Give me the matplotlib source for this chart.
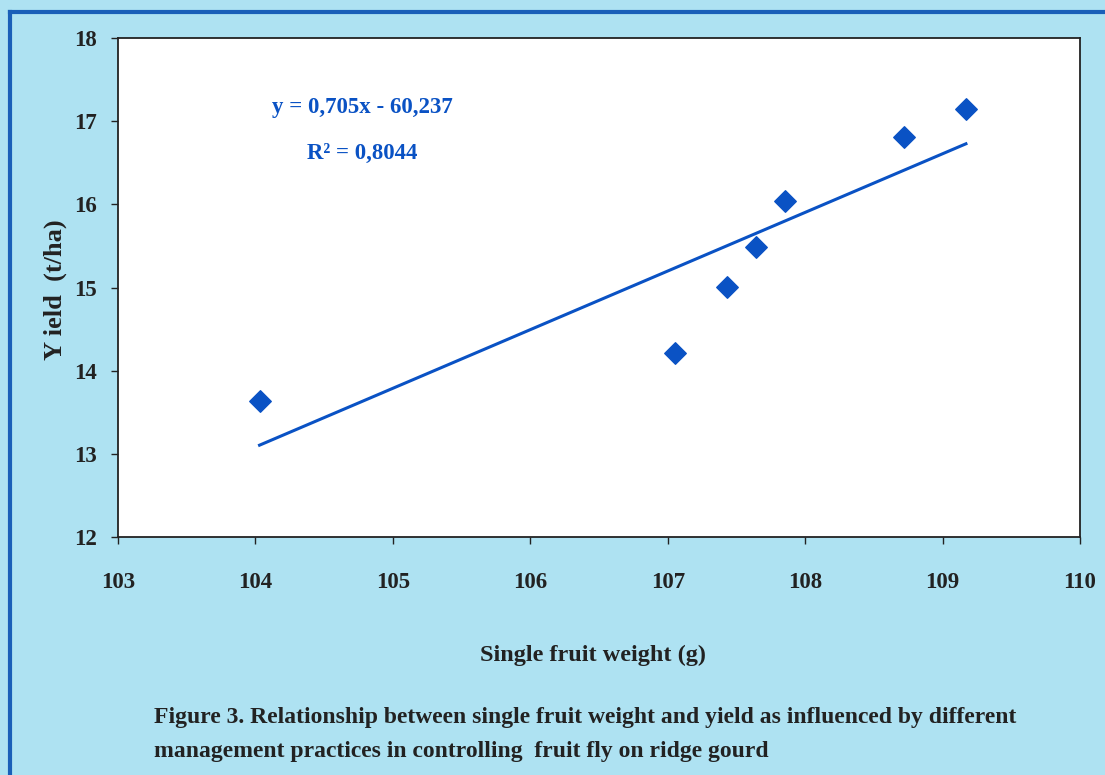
import matplotlib.pyplot as plt
import numpy as np

# single fruit weight (g) and yield (t/ha)
fruit_weight = [104.03, 107.05, 107.43, 107.64, 107.85, 108.72, 109.17]
yield_tha = [13.64, 14.21, 15.01, 15.49, 16.04, 16.81, 17.15]

# trend line given on the chart
slope = 0.705
intercept = -60.237
r2 = 0.8044

x_ticks = [103, 104, 105, 106, 107, 108, 109, 110]
y_ticks = [12, 13, 14, 15, 16, 17, 18]

bg = '#aee2f2'
blue = '#0a52c4'
ink = '#222222'

plt.rcParams['font.family'] = ['Liberation Serif', 'DejaVu Serif']
plt.rcParams['font.weight'] = 'bold'

fig = plt.figure(figsize=(11.05, 7.75), dpi=100, facecolor=bg)
ax = fig.add_axes([118 / 1105, 1 - 537 / 775, (1080 - 118) / 1105, (537 - 38) / 775])
ax.set_facecolor('white')

ax.scatter(fruit_weight, yield_tha, marker='D', s=120, color=blue, zorder=3)

xl = np.array([min(fruit_weight), max(fruit_weight)])
ax.plot(xl, slope * xl + intercept, color=blue, lw=2.2)

ax.set_xlim(103, 110)
ax.set_ylim(12, 18)
ax.set_xticks(x_ticks)
ax.set_yticks(y_ticks)
ax.tick_params(direction='out', length=5, width=1, labelsize=16.5, colors=ink)
ax.tick_params(axis='x', pad=20)
ax.tick_params(axis='y', pad=10)
for s in ax.spines.values():
    s.set_linewidth(1.3)
    s.set_color(ink)

ax.text(0.254, 0.86, f'y = {slope}x - {abs(intercept)}'.replace('.', ','),
        transform=ax.transAxes, ha='center', va='center', color=blue, fontsize=16.5)
ax.text(0.254, 0.768, f'R² = {r2}'.replace('.', ','),
        transform=ax.transAxes, ha='center', va='center', color=blue, fontsize=16.5)

fig.text(55 / 1105, 1 - 290 / 775, 'Y ield  (t/ha)', rotation=90, ha='center', va='center',
         fontsize=19, color=ink)
fig.text(593 / 1105, 1 - 655 / 775, 'Single fruit weight (g)', ha='center', va='center',
         fontsize=17.5, color=ink)

fig.text(154 / 1105, 1 - 717 / 775,
         'Figure 3. Relationship between single fruit weight and yield as influenced by different',
         ha='left', va='center', fontsize=17, color=ink)
fig.text(154 / 1105, 1 - 751 / 775,
         'management practices in controlling  fruit fly on ridge gourd',
         ha='left', va='center', fontsize=17, color=ink)

# blue frame lines on the top and left of the panel
fig.add_artist(plt.Line2D([10 / 1105, 1], [1 - 12 / 775, 1 - 12 / 775], color='#1a5fb8', lw=3))
fig.add_artist(plt.Line2D([10 / 1105, 10 / 1105], [0, 1 - 12 / 775], color='#1a5fb8', lw=3))

fig.savefig('out.png', dpi=100, facecolor=bg)
